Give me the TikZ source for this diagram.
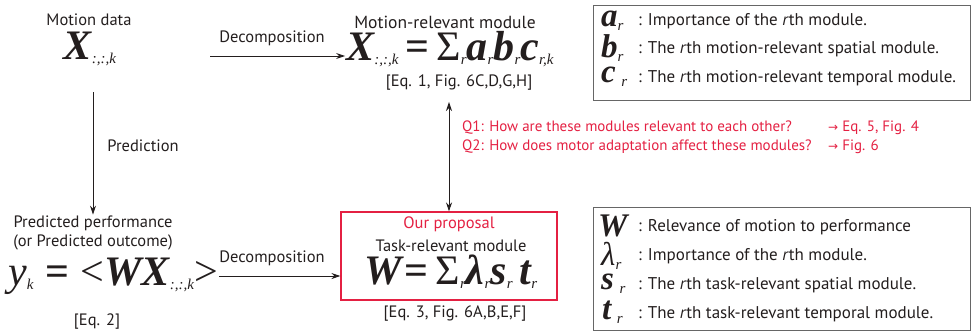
\documentclass[tikz,border=0pt]{standalone}
\usepackage{fontspec}
\setmainfont{PT Sans}
\newfontfamily\tmsfont{Liberation Serif}
\newfontfamily\arrfont{DejaVu Sans}
\usetikzlibrary{positioning,arrows.meta}
\definecolor{qred}{RGB}{228,32,66}
\definecolor{ink}{RGB}{35,30,30}
\newcommand{\bsym}[1]{{\tmsfont\bfseries\itshape #1}}
\newcommand{\isub}[1]{\raisebox{-4pt}{\fontsize{15}{15}\selectfont\tmsfont\itshape\mdseries #1}}
\newcommand{\rth}{\textit{r}th}

\begin{document}
\begin{tikzpicture}[
    x=1pt, y=-1pt,
    lbl/.style={inner sep=1pt, text=ink, font=\fontsize{16.5}{19}\selectfont, align=center},
    eqn/.style={inner sep=1pt, text=ink, font=\fontsize{42}{46}\selectfont\tmsfont},
    qtxt/.style={inner sep=1pt, anchor=west, text=qred, font=\fontsize{15}{17}\selectfont},
    sym/.style={inner sep=0pt, anchor=west, text=ink, font=\fontsize{33}{35}\selectfont\tmsfont},
    desc/.style={inner sep=1pt, anchor=west, text=ink, font=\fontsize{17}{19}\selectfont},
    legbox/.style={draw=black!60, line width=0.9pt, inner sep=0pt},
    propbox/.style={draw=qred, line width=1.1pt, inner sep=0pt,
      minimum width=216pt, minimum height=88pt},
    arr/.style={-{Stealth[length=9pt, width=6pt]}, line width=1pt, draw=ink},
    dblarr/.style={{Stealth[length=9pt, width=6pt]}-{Stealth[length=9pt, width=6pt]}, line width=1pt, draw=ink}
  ]
    \useasboundingbox (0,0) rectangle (977,333);

    % motion data
    \node[lbl] (mdata) at (89,20) {Motion data};
    \node[eqn] (xdata) at (90,49) {\bsym{X}\isub{:,:,k}};

    % motion-relevant module
    \node[lbl, font=\fontsize{17.5}{19}\selectfont] (mmod) at (445,22) {Motion-relevant module};
    \node[eqn] (xdec) at (450,49) {\bsym{X}\isub{:,:,k}\,\textbf{=}\,%
      Σ\isub{r}\bsym{a}\isub{r}\bsym{b}\isub{r}\bsym{c}\isub{r,k}};
    \node[lbl] (ref1) at (459,83) {[Eq. 1, Fig. 6C,D,G,H]};

    \coordinate (dec1) at (210,56);
    \node[lbl] (dlbl1) at (272,38) {Decomposition};
    \draw[arr] (dec1) -- (dec1 -| xdec.west);

    % prediction
    \coordinate (pred) at (93,92);
    \node[lbl] (plbl) at (143,146) {Prediction};
    \node[lbl] (pperf) at (93,233) {Predicted performance\\(or Predicted outcome)};
    \draw[arr] (pred) -- (pperf.north);
    \node[eqn] (ypred) at (113,276) {{\itshape y}\isub{k}\;\textbf{=}\;%
      <\bsym{WX}\isub{:,:,k}>};
    \node[lbl] (ref2) at (97,322) {[Eq. 2]};

    % our proposal
    \node[propbox] (prop) at (449,256) {};
    \node[lbl, text=qred] (ours) at (449,224) {Our proposal};
    \node[lbl] (tmod) at (451,246) {Task-relevant module};
    \node[eqn] (wdec) at (451,272) {\bsym{W}\textbf{=}\,%
      Σ\isub{r}\bsym{λ}\isub{r}\bsym{s}\isub{r}\,\bsym{t}\isub{r}};
    \node[lbl] (ref3) at (455,314) {[Eq. 3, Fig. 6A,B,E,F]};

    \node[lbl] (dlbl2) at (272,258) {Decomposition};
    \draw[arr] (ypred.east) -- (ypred.east -| prop.west);

    \draw[dblarr] ([yshift=-10pt]prop.north |- ref1.south) -- (prop.north);

    % questions
    \node[qtxt] (q1) at (461,128) {Q1: How are these modules relevant to each other?};
    \node[qtxt] (q1ref) at (827,128) {{\arrfont\fontsize{12}{14}\selectfont →} Eq. 5, Fig. 4};
    \node[qtxt] (q2) at (461,147) {Q2: How does motor adaptation affect these modules?};
    \node[qtxt] (q2ref) at (827,147) {{\arrfont\fontsize{12}{14}\selectfont →} Fig. 6};

    % legend: motion-relevant
    \node[legbox, minimum width=377pt, minimum height=95pt] (mleg) at (781.5,52.5) {};
    \node[sym] (sa) at (601,21) {\bsym{a}\isub{r}};
    \node[desc] (da) at (637,21) {: Importance of the \rth{} module.};
    \node[sym] (sb) at (601,48) {\bsym{b}\isub{r}};
    \node[desc] (db) at (637,49) {: The \rth{} motion-relevant spatial module.};
    \node[sym] (sc) at (601,77) {\bsym{c}\,\isub{r}};
    \node[desc] (dc) at (637,78) {: The \rth{} motion-relevant temporal module.};

    % legend: task-relevant
    \node[legbox, minimum width=377pt, minimum height=123pt] (tleg) at (781.5,268.5) {};
    \node[sym] (sw) at (598,226) {\bsym{W}};
    \node[desc] (dw) at (637,227) {: Relevance of motion to performance};
    \node[sym] (sl) at (601,256) {{\itshape λ}\isub{r}};
    \node[desc] (dl) at (637,256) {: Importance of the \rth{} module.};
    \node[sym] (ss) at (601,284) {\bsym{s}\,\isub{r}};
    \node[desc] (ds) at (637,285) {: The \rth{} task-relevant spatial module.};
    \node[sym] (st) at (602,312) {\bsym{t}\,\isub{r}};
    \node[desc] (dt) at (637,314) {: The \rth{} task-relevant temporal module.};
  \end{tikzpicture}
\end{document}
